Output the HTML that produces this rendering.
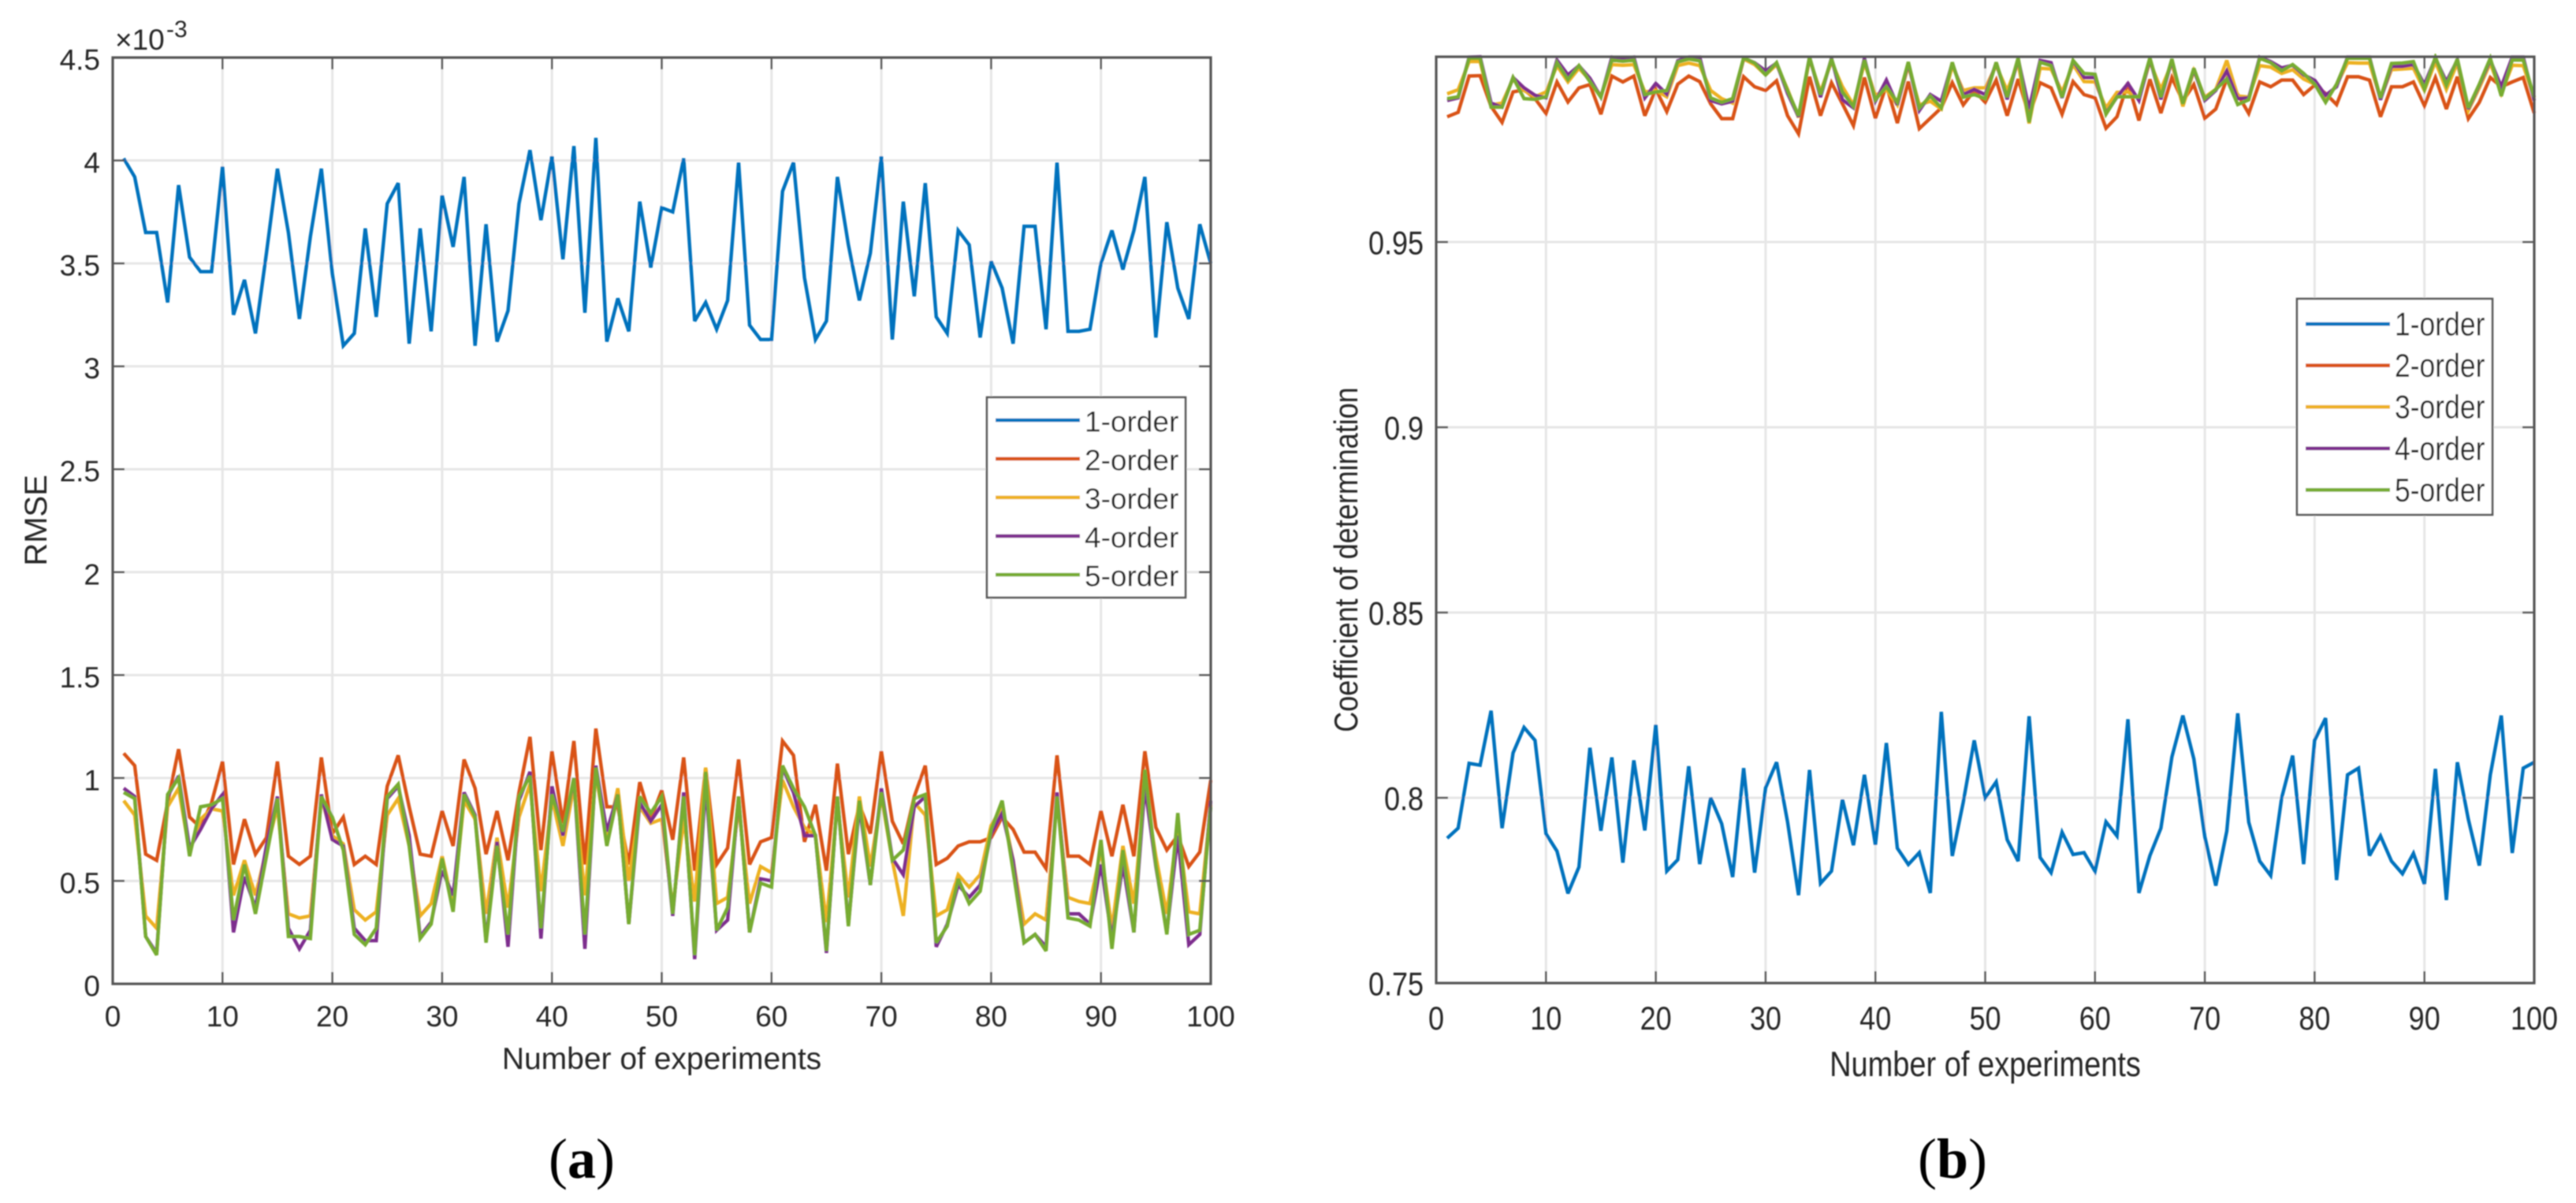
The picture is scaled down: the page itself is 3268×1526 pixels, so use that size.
<!DOCTYPE html>
<html lang="en">
<head>
<meta charset="utf-8">
<title>RMSE and coefficient of determination by model order</title>
<style>
html,body{margin:0;padding:0;background:#fff;}
svg{display:block;}
text{font-family:"Liberation Sans",Arial,sans-serif;fill:#262626;}
</style>
</head>
<body>
<svg id="figure" xmlns="http://www.w3.org/2000/svg" width="3268" height="1526" viewBox="0 0 3268 1526">
<defs>
<filter id="soft" x="-2%" y="-2%" width="104%" height="104%"><feGaussianBlur stdDeviation="0.7"/></filter>
<clipPath id="clip-a"><rect x="141" y="69" width="1397" height="1181"/></clipPath>
<clipPath id="clip-b"><rect x="1820" y="68" width="1397" height="1181"/></clipPath>
</defs>
<g id="root" filter="url(#soft)"></g>
</svg>
<script>
const experiments = Array.from({length: 100}, (_, i) => i + 1);
const seriesNames = ["1-order", "2-order", "3-order", "4-order", "5-order"];
const seriesColors = ["#0072BD", "#D95319", "#EDB120", "#7E2F8E", "#77AC30"];
const xTicks = [0, 10, 20, 30, 40, 50, 60, 70, 80, 90, 100];
const xTickLabels = ["0", "10", "20", "30", "40", "50", "60", "70", "80", "90", "100"];
const rmseTicks = [0, 0.5, 1, 1.5, 2, 2.5, 3, 3.5, 4, 4.5];
const rmseTickLabels = ["0", "0.5", "1", "1.5", "2", "2.5", "3", "3.5", "4", "4.5"];
const r2Ticks = [0.75, 0.8, 0.85, 0.9, 0.95];
const r2TickLabels = ["0.75", "0.8", "0.85", "0.9", "0.95"];

const rmse1 = [4.01,3.92,3.65,3.65,3.31,3.88,3.53,3.46,3.46,3.97,3.25,3.42,3.16,3.55,3.96,3.65,3.23,3.63,3.96,3.45,3.10,3.16,3.67,3.24,3.79,3.89,3.11,3.67,3.17,3.83,3.58,3.92,3.10,3.69,3.12,3.27,3.79,4.05,3.71,4.02,3.52,4.07,3.26,4.11,3.12,3.33,3.17,3.80,3.48,3.77,3.75,4.01,3.22,3.31,3.18,3.32,3.99,3.20,3.13,3.13,3.85,3.99,3.43,3.13,3.22,3.92,3.59,3.32,3.55,4.02,3.13,3.80,3.34,3.89,3.24,3.16,3.66,3.59,3.14,3.51,3.38,3.11,3.68,3.68,3.18,3.99,3.17,3.17,3.18,3.50,3.66,3.47,3.66,3.92,3.14,3.70,3.38,3.23,3.69,3.50];
const rmse2 = [1.12,1.06,0.63,0.60,0.88,1.14,0.81,0.76,0.88,1.08,0.58,0.80,0.63,0.71,1.08,0.62,0.58,0.62,1.10,0.73,0.81,0.58,0.62,0.58,0.96,1.11,0.86,0.63,0.62,0.84,0.67,1.09,0.95,0.63,0.84,0.60,0.93,1.20,0.65,1.13,0.78,1.18,0.58,1.24,0.86,0.86,0.58,0.98,0.80,0.94,0.70,1.10,0.55,1.05,0.58,0.66,1.09,0.58,0.69,0.71,1.18,1.11,0.69,0.87,0.55,1.07,0.63,0.87,0.73,1.13,0.79,0.68,0.91,1.06,0.58,0.61,0.67,0.69,0.69,0.71,0.81,0.75,0.64,0.64,0.56,1.11,0.62,0.62,0.58,0.84,0.62,0.87,0.62,1.13,0.76,0.65,0.72,0.57,0.64,0.99];
const rmse3 = [0.89,0.82,0.33,0.27,0.86,0.95,0.64,0.80,0.85,0.84,0.43,0.60,0.43,0.65,0.86,0.34,0.32,0.33,0.90,0.72,0.68,0.36,0.31,0.35,0.82,0.90,0.67,0.33,0.39,0.62,0.38,0.89,0.80,0.34,0.71,0.37,0.81,0.97,0.45,0.90,0.67,0.96,0.43,1.02,0.70,0.95,0.50,0.86,0.78,0.80,0.37,0.80,0.40,1.05,0.39,0.42,0.86,0.39,0.57,0.54,0.99,0.86,0.76,0.72,0.30,0.88,0.42,0.91,0.57,0.91,0.60,0.33,0.88,0.82,0.33,0.36,0.53,0.47,0.53,0.77,0.86,0.60,0.29,0.34,0.31,0.89,0.42,0.40,0.39,0.65,0.27,0.67,0.39,0.95,0.62,0.34,0.77,0.35,0.34,0.87];
const rmse4 = [0.95,0.91,0.23,0.15,0.91,1.01,0.66,0.75,0.85,0.92,0.25,0.52,0.37,0.67,0.91,0.27,0.17,0.26,0.92,0.70,0.67,0.27,0.21,0.21,0.90,0.96,0.72,0.23,0.30,0.55,0.43,0.93,0.82,0.21,0.69,0.18,0.89,1.03,0.22,0.96,0.72,1.00,0.17,1.06,0.74,0.92,0.29,0.88,0.79,0.87,0.33,0.93,0.12,0.97,0.26,0.31,0.91,0.25,0.51,0.50,1.05,0.93,0.72,0.72,0.15,0.91,0.29,0.86,0.48,0.95,0.61,0.53,0.86,0.91,0.18,0.29,0.48,0.42,0.48,0.73,0.83,0.60,0.20,0.24,0.18,0.93,0.34,0.34,0.29,0.58,0.22,0.58,0.25,0.96,0.57,0.25,0.72,0.19,0.24,0.89];
const rmse5 = [0.93,0.90,0.23,0.14,0.92,1.00,0.62,0.86,0.87,0.90,0.31,0.58,0.34,0.62,0.90,0.23,0.23,0.22,0.91,0.81,0.65,0.24,0.19,0.27,0.91,0.97,0.67,0.22,0.29,0.61,0.35,0.92,0.81,0.20,0.67,0.24,0.91,1.01,0.27,0.92,0.74,1.00,0.24,1.05,0.67,0.92,0.29,0.91,0.83,0.91,0.34,0.91,0.14,1.03,0.26,0.37,0.91,0.25,0.49,0.47,1.06,0.95,0.86,0.72,0.16,0.91,0.28,0.89,0.48,0.93,0.60,0.65,0.90,0.92,0.20,0.28,0.51,0.39,0.45,0.75,0.89,0.55,0.20,0.24,0.16,0.91,0.32,0.31,0.28,0.70,0.17,0.65,0.25,1.04,0.58,0.24,0.83,0.24,0.26,0.86];

const r2a = [0.7891,0.7918,0.8093,0.8088,0.8235,0.7918,0.8121,0.8190,0.8155,0.7903,0.7856,0.7742,0.7813,0.8135,0.7911,0.8109,0.7825,0.8101,0.7912,0.8197,0.7802,0.7833,0.8085,0.7821,0.8000,0.7930,0.7786,0.8080,0.7798,0.8027,0.8096,0.7935,0.7737,0.8075,0.7769,0.7802,0.7995,0.7872,0.8062,0.7873,0.8148,0.7864,0.7820,0.7852,0.7743,0.8232,0.7843,0.7988,0.8155,0.8000,0.8043,0.7887,0.7829,0.8220,0.7839,0.7798,0.7907,0.7847,0.7852,0.7802,0.7935,0.7897,0.8212,0.7743,0.7844,0.7918,0.8110,0.8222,0.8105,0.7895,0.7763,0.7910,0.8228,0.7934,0.7829,0.7790,0.8000,0.8114,0.7821,0.8155,0.8215,0.7778,0.8062,0.8080,0.7844,0.7897,0.7829,0.7795,0.7850,0.7767,0.8078,0.7724,0.8096,0.7942,0.7817,0.8062,0.8222,0.7851,0.8080,0.8096];
const r2b = [0.9838,0.9850,0.9948,0.9949,0.9866,0.9823,0.9905,0.9911,0.9887,0.9847,0.9932,0.9878,0.9916,0.9925,0.9845,0.9948,0.9932,0.9948,0.9841,0.9912,0.9852,0.9926,0.9948,0.9933,0.9873,0.9833,0.9833,0.9946,0.9919,0.9909,0.9935,0.9841,0.9792,0.9946,0.9841,0.9930,0.9873,0.9814,0.9944,0.9834,0.9923,0.9821,0.9933,0.9806,0.9834,0.9862,0.9930,0.9870,0.9909,0.9877,0.9937,0.9841,0.9940,0.9841,0.9930,0.9916,0.9845,0.9933,0.9898,0.9889,0.9807,0.9838,0.9930,0.9828,0.9939,0.9848,0.9944,0.9880,0.9925,0.9834,0.9859,0.9940,0.9898,0.9847,0.9932,0.9919,0.9937,0.9937,0.9898,0.9923,0.9901,0.9871,0.9946,0.9946,0.9937,0.9838,0.9919,0.9919,0.9932,0.9868,0.9944,0.9859,0.9946,0.9833,0.9877,0.9944,0.9919,0.9932,0.9944,0.9848];
const r2c = [0.9900,0.9911,0.9987,0.9987,0.9870,0.9875,0.9940,0.9909,0.9892,0.9905,0.9976,0.9932,0.9969,0.9937,0.9894,0.9979,0.9977,0.9979,0.9905,0.9909,0.9892,0.9976,0.9983,0.9976,0.9909,0.9887,0.9875,0.9994,0.9979,0.9951,0.9979,0.9912,0.9836,0.9994,0.9905,0.9987,0.9919,0.9870,0.9983,0.9896,0.9912,0.9870,0.9976,0.9870,0.9880,0.9859,0.9976,0.9909,0.9916,0.9916,0.9976,0.9909,0.9983,0.9820,0.9969,0.9967,0.9905,0.9979,0.9933,0.9932,0.9862,0.9904,0.9905,0.9887,0.9987,0.9912,0.9983,0.9866,0.9962,0.9891,0.9912,0.9990,0.9894,0.9891,0.9976,0.9972,0.9955,0.9965,0.9940,0.9926,0.9887,0.9923,0.9984,0.9983,0.9983,0.9887,0.9965,0.9967,0.9969,0.9909,0.9987,0.9912,0.9983,0.9855,0.9916,0.9983,0.9901,0.9977,0.9976,0.9889];
const r2d = [0.9882,0.9889,0.9999,1.0000,0.9875,0.9864,0.9944,0.9916,0.9896,0.9889,0.9991,0.9951,0.9976,0.9942,0.9891,0.9999,0.9996,0.9999,0.9889,0.9928,0.9899,0.9989,0.9999,0.9999,0.9882,0.9873,0.9880,0.9996,0.9984,0.9962,0.9983,0.9901,0.9838,0.9999,0.9891,0.9996,0.9884,0.9862,0.9996,0.9880,0.9937,0.9870,0.9983,0.9855,0.9898,0.9880,0.9983,0.9898,0.9912,0.9898,0.9984,0.9885,0.9994,0.9859,0.9990,0.9984,0.9889,0.9989,0.9944,0.9944,0.9848,0.9891,0.9928,0.9882,0.9994,0.9885,0.9990,0.9875,0.9965,0.9882,0.9909,0.9962,0.9887,0.9889,0.9999,0.9987,0.9970,0.9977,0.9951,0.9937,0.9896,0.9919,0.9999,0.9999,0.9999,0.9884,0.9974,0.9974,0.9979,0.9926,0.9996,0.9933,0.9991,0.9859,0.9923,0.9991,0.9919,0.9999,0.9999,0.9882];
const r2e = [0.9887,0.9892,0.9996,0.9996,0.9864,0.9864,0.9944,0.9887,0.9885,0.9892,0.9984,0.9938,0.9976,0.9933,0.9891,0.9991,0.9988,0.9991,0.9898,0.9905,0.9909,0.9986,0.9994,0.9989,0.9889,0.9877,0.9887,0.9997,0.9983,0.9951,0.9984,0.9909,0.9841,0.9999,0.9898,0.9994,0.9905,0.9866,0.9991,0.9884,0.9919,0.9877,0.9986,0.9862,0.9894,0.9862,0.9985,0.9891,0.9898,0.9887,0.9985,0.9891,0.9997,0.9823,0.9985,0.9976,0.9891,0.9990,0.9955,0.9953,0.9845,0.9892,0.9892,0.9892,0.9997,0.9891,0.9994,0.9873,0.9969,0.9887,0.9912,0.9940,0.9871,0.9884,0.9996,0.9984,0.9962,0.9979,0.9955,0.9926,0.9877,0.9926,0.9996,0.9996,0.9996,0.9889,0.9982,0.9983,0.9987,0.9912,0.9999,0.9923,0.9994,0.9862,0.9926,0.9996,0.9894,0.9991,0.9991,0.9891];

const NS = "http://www.w3.org/2000/svg";
const root = document.getElementById("root");

function node(tag, attrs, parent) {
  const el = document.createElementNS(NS, tag);
  for (const k in attrs) el.setAttribute(k, attrs[k]);
  parent.appendChild(el);
  return el;
}

function label(parent, str, x, y, size, anchor, sx, sy, rot) {
  let t = "translate(" + x + " " + y + ")";
  if (rot) t += " rotate(" + rot + ")";
  t += " scale(" + sx + " " + sy + ")";
  const el = node("text", {transform: t, "font-size": size, "text-anchor": anchor}, parent);
  el.textContent = str;
  return el;
}

function drawPanel(p) {
  const g = node("g", {}, root);
  
  
  const X = v => p.left + (v - 0) / 100 * (p.right - p.left);
  const Y = v => p.bottom - (v - p.yMin) / (p.yMax - p.yMin) * (p.bottom - p.top);

  const grid = node("g", {stroke: "#e6e6e6", "stroke-width": 3}, g);
  
  
  xTicks.slice(1, -1).forEach(v => node("line", {x1: X(v), x2: X(v), y1: p.top, y2: p.bottom}, grid));
  p.yTicks.forEach(v => { if (v > p.yMin) node("line", {x1: p.left, x2: p.right, y1: Y(v), y2: Y(v)}, grid); });

  const lines = node("g", {"clip-path": "url(#" + p.clip + ")", fill: "none", "stroke-width": 4.4, "stroke-linejoin": "miter", "stroke-miterlimit": 3}, g);
  
  
  p.series.forEach((vals, i) => {
    const d = vals.map((v, k) => (k ? "L" : "M") + X(experiments[k]).toFixed(2) + " " + Y(v).toFixed(2)).join("");
    const path = node("path", {d: d, stroke: seriesColors[i]}, lines);
    
    
  });

  const frame = node("g", {stroke: "#555", "stroke-width": 2.4}, g);
  
  
  node("rect", {x: p.left, y: p.top, width: p.right - p.left, height: p.bottom - p.top, fill: "none", "stroke-width": 3.2}, frame);
  xTicks.slice(1, -1).forEach(v => {
    node("line", {x1: X(v), x2: X(v), y1: p.bottom, y2: p.bottom - 15}, frame);
    node("line", {x1: X(v), x2: X(v), y1: p.top, y2: p.top + 15}, frame);
  });
  p.yTicks.forEach(v => {
    node("line", {x1: p.left, x2: p.left + 15, y1: Y(v), y2: Y(v)}, frame);
    node("line", {x1: p.right, x2: p.right - 15, y1: Y(v), y2: Y(v)}, frame);
  });

  const xt = node("g", {}, g);
  
  
  xTicks.forEach((v, i) => label(xt, xTickLabels[i], X(v), p.xTickY, p.tickSize, "middle", 1, p.sy));

  const yt = node("g", {}, g);
  
  
  p.yTicks.forEach((v, i) => label(yt, p.yTickLabels[i], p.yTickX, Y(v) + 15.5, p.tickSize, "end", 1, p.sy));

  const xTitle = label(g, "Number of experiments", (p.left + p.right) / 2, p.xTitleY, p.xTitleSize, "middle", 1, p.sy);
  
  

  const yTitle = label(g, p.yTitle, p.yTitleX, p.yTitleCy, p.yTitleSize, "middle", 1, p.yTitleSy, -90);
  
  

  const lg = node("g", {}, g);
  
  
  node("rect", {x: p.lgLeft, y: p.lgTop, width: p.lgRight - p.lgLeft, height: p.lgBottom - p.lgTop, fill: "#fff", stroke: "#555", "stroke-width": 2.6}, lg);
  seriesNames.forEach((s, i) => {
    const y = p.lgFirst + i * p.lgStep;
    const swatch = node("line", {x1: p.lgLeft + 11, x2: p.lgLeft + 118, y1: y, y2: y, stroke: seriesColors[i], "stroke-width": 4.6}, lg);
    
    
    const t = label(lg, s, p.lgLeft + 124, y + 14.5, p.lgSize, "start", 1, p.sy);
    
    
  });

  const cap = node("text", {x: p.capX, y: 1494, "font-size": 72, style: "font-family:'Liberation Serif',serif;fill:#000"}, g);
  
  
  const ts = node("tspan", {}, cap); ts.textContent = "(";
  const tb = node("tspan", {"font-weight": "bold"}, cap); tb.textContent = p.capLetter;
  const te = node("tspan", {}, cap); te.textContent = ")";
  return g;
}

const panelA = drawPanel({
  name: "panel-a-rmse", clip: "clip-a", left: 143, right: 1536, top: 73, bottom: 1248, yMin: 0, yMax: 4.5,
  series: [rmse1, rmse2, rmse3, rmse4, rmse5], yTicks: rmseTicks, yTickLabels: rmseTickLabels,
  xTickY: 1302, yTickX: 127, tickSize: 37, sy: 1, xTitleY: 1356, xTitleSize: 39,
  yTitle: "RMSE", yTitleX: 59, yTitleCy: 660, yTitleSize: 40, yTitleSy: 1,
  lgLeft: 1252, lgRight: 1504, lgTop: 504, lgBottom: 758, lgFirst: 533, lgStep: 49, lgSize: 37,
  capX: 696, capLetter: "a"
});

const exponent = node("g", {}, panelA);


label(exponent, "×10", 146, 63, 37, "start", 1, 1);
label(exponent, "-3", 211, 47, 30, "start", 1, 1);

drawPanel({
  name: "panel-b-coefficient-of-determination", clip: "clip-b", left: 1822, right: 3215, top: 72, bottom: 1247, yMin: 0.75, yMax: 1,
  series: [r2a, r2b, r2c, r2d, r2e], yTicks: r2Ticks, yTickLabels: r2TickLabels,
  xTickY: 1306, yTickX: 1806, tickSize: 36, sy: 1.17, xTitleY: 1365, xTitleSize: 38,
  yTitle: "Coefficient of determination", yTitleX: 1722, yTitleCy: 710, yTitleSize: 36, yTitleSy: 1.15,
  lgLeft: 2914, lgRight: 3162, lgTop: 379, lgBottom: 653, lgFirst: 411, lgStep: 52.6, lgSize: 35.5,
  capX: 2433, capLetter: "b"
});
</script>
</body>
</html>
